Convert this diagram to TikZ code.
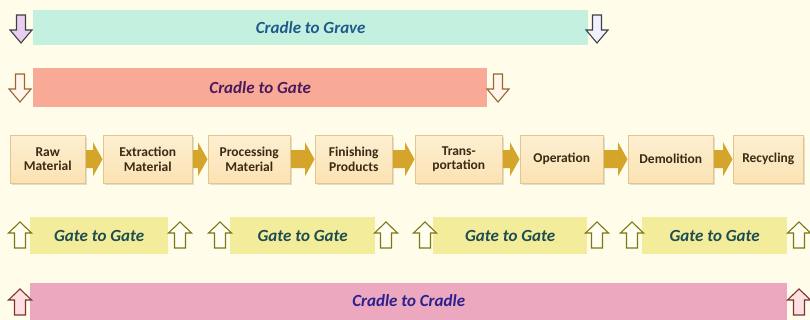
\documentclass[tikz,border=0pt]{standalone}
\usepackage{fontspec}
\setmainfont{Carlito}
\usetikzlibrary{calc,shadows}

\definecolor{bgcream}{HTML}{FFFDEA}
\definecolor{gravefill}{HTML}{C4F0E0}
\definecolor{gravetext}{HTML}{1F5A8A}
\definecolor{gatefill}{HTML}{F9AA96}
\definecolor{gatetext}{HTML}{4A1A5E}
\definecolor{ggfill}{HTML}{F3EC9A}
\definecolor{ggtext}{HTML}{1E4D50}
\definecolor{cradlefill}{HTML}{EBA8BE}
\definecolor{cradletext}{HTML}{2B2090}
\definecolor{stagefill}{HTML}{FBE2B2}
\definecolor{stagetop}{HTML}{FDEFD2}
\definecolor{stageline}{HTML}{E6C58A}
\definecolor{stagetext}{HTML}{3B2A14}
\definecolor{flowgold}{HTML}{D4A52A}
\definecolor{lavender}{HTML}{E8CFF2}

\tikzset{
  bar/.style={anchor=north west, inner sep=0pt, font=\fontsize{17}{19}\selectfont\bfseries\itshape},
  stage/.style={anchor=north west, inner sep=0pt, minimum height=48pt, align=center,
    top color=stagetop, bottom color=stagefill, draw=stageline, line width=0.5pt,
    text=stagetext, font=\fontsize{13.5}{14.5}\selectfont\bfseries,
    drop shadow={opacity=0.25, shadow xshift=1.3pt, shadow yshift=-1.3pt}},
  % hollow block arrows pointing down / up, drawn about their centre
  pics/dnarrow/.style={code={
    \path[pic actions, line width=1.1pt, line join=miter]
      (-4.5,-14) -- (4.5,-14) -- (4.5,1) -- (11,1) -- (0,14) -- (-11,1) -- (-4.5,1) -- cycle;}},
  pics/uparrow/.style={code={
    \path[pic actions, line width=1.1pt, line join=miter]
      (-5.5,13) -- (5.5,13) -- (5.5,-2) -- (11.5,-2) -- (0,-13) -- (-11.5,-2) -- (-5.5,-2) -- cycle;}},
}

% solid gold flow arrow from the east side of one stage to the west side of the next
\newcommand\FlowArrow[2]{%
  \fill[flowgold] let \p1=(#1.east), \p2=(#2.west) in
    (\x1+0.5pt,\y1+9pt) -- (\x2-10pt,\y1+9pt) -- (\x2-10pt,\y1+17pt) -- (\x2-0.5pt,\y1)
    -- (\x2-10pt,\y1-17pt) -- (\x2-10pt,\y1-9pt) -- (\x1+0.5pt,\y1-9pt) -- cycle;}

\begin{document}
\begin{tikzpicture}[x=1pt,y=-1pt]
\useasboundingbox (0,0) rectangle (810,320);
\fill[bgcream] (0,0) rectangle (810,320);

% Cradle to Grave
\node[bar, fill=gravefill, text=gravetext, minimum width=555pt, minimum height=35pt] (grave) at (33,10) {Cradle to Grave};
\pic[fill=lavender, draw=black!75] at (21,29) {dnarrow};
\pic[fill=blue!6, draw=black!75] at (597,29) {dnarrow};

% Cradle to Gate
\node[bar, fill=gatefill, text=gatetext, minimum width=454pt, minimum height=39pt] (gate) at (33,68) {Cradle to Gate};
\pic[fill=orange!8, draw=brown!80!black] at (20,88) {dnarrow};
\pic[fill=orange!8, draw=brown!80!black] at (498,88) {dnarrow};

% life-cycle stages
\node[stage, minimum width=75pt] (raw)   at (10,135)  {Raw\\Material};
\node[stage, minimum width=89pt] (extr)  at (103,135) {Extraction\\Material};
\node[stage, minimum width=82pt] (proc)  at (208,135) {Processing\\Material};
\node[stage, minimum width=77pt] (fin)   at (315,135) {Finishing\\Products};
\node[stage, minimum width=87pt] (trans) at (415,135) {Trans-\\portation};
\node[stage, minimum width=83pt] (oper)  at (520,135) {Operation};
\node[stage, minimum width=85pt] (demo)  at (628,135) {Demolition};
\node[stage, minimum width=70pt] (recy)  at (733,135) {Recycling};

\FlowArrow{raw}{extr}
\FlowArrow{extr}{proc}
\FlowArrow{proc}{fin}
\FlowArrow{fin}{trans}
\FlowArrow{trans}{oper}
\FlowArrow{oper}{demo}
\FlowArrow{demo}{recy}

% Gate to Gate
\node[bar, fill=ggfill, text=ggtext, minimum width=138pt, minimum height=37pt] (gg1) at (30,217)  {Gate to Gate};
\node[bar, fill=ggfill, text=ggtext, minimum width=145pt, minimum height=37pt] (gg2) at (230,217) {Gate to Gate};
\node[bar, fill=ggfill, text=ggtext, minimum width=154pt, minimum height=37pt] (gg3) at (433,217) {Gate to Gate};
\node[bar, fill=ggfill, text=ggtext, minimum width=145pt, minimum height=37pt] (gg4) at (642,217) {Gate to Gate};
\foreach \ax in {20,180,220,386,425,597,632,799}
  \pic[fill=yellow!6, draw=olive!85!black] at (\ax,235) {uparrow};

% Cradle to Cradle
\node[bar, fill=cradlefill, text=cradletext, minimum width=757pt, minimum height=37pt] (cradle) at (30,283) {\raisebox{3pt}{Cradle to Cradle}};
\pic[fill=red!12, draw=red!35!black!80] at (20,302) {uparrow};
\pic[fill=red!12, draw=red!35!black!80] at (799,302) {uparrow};
\end{tikzpicture}
\end{document}
